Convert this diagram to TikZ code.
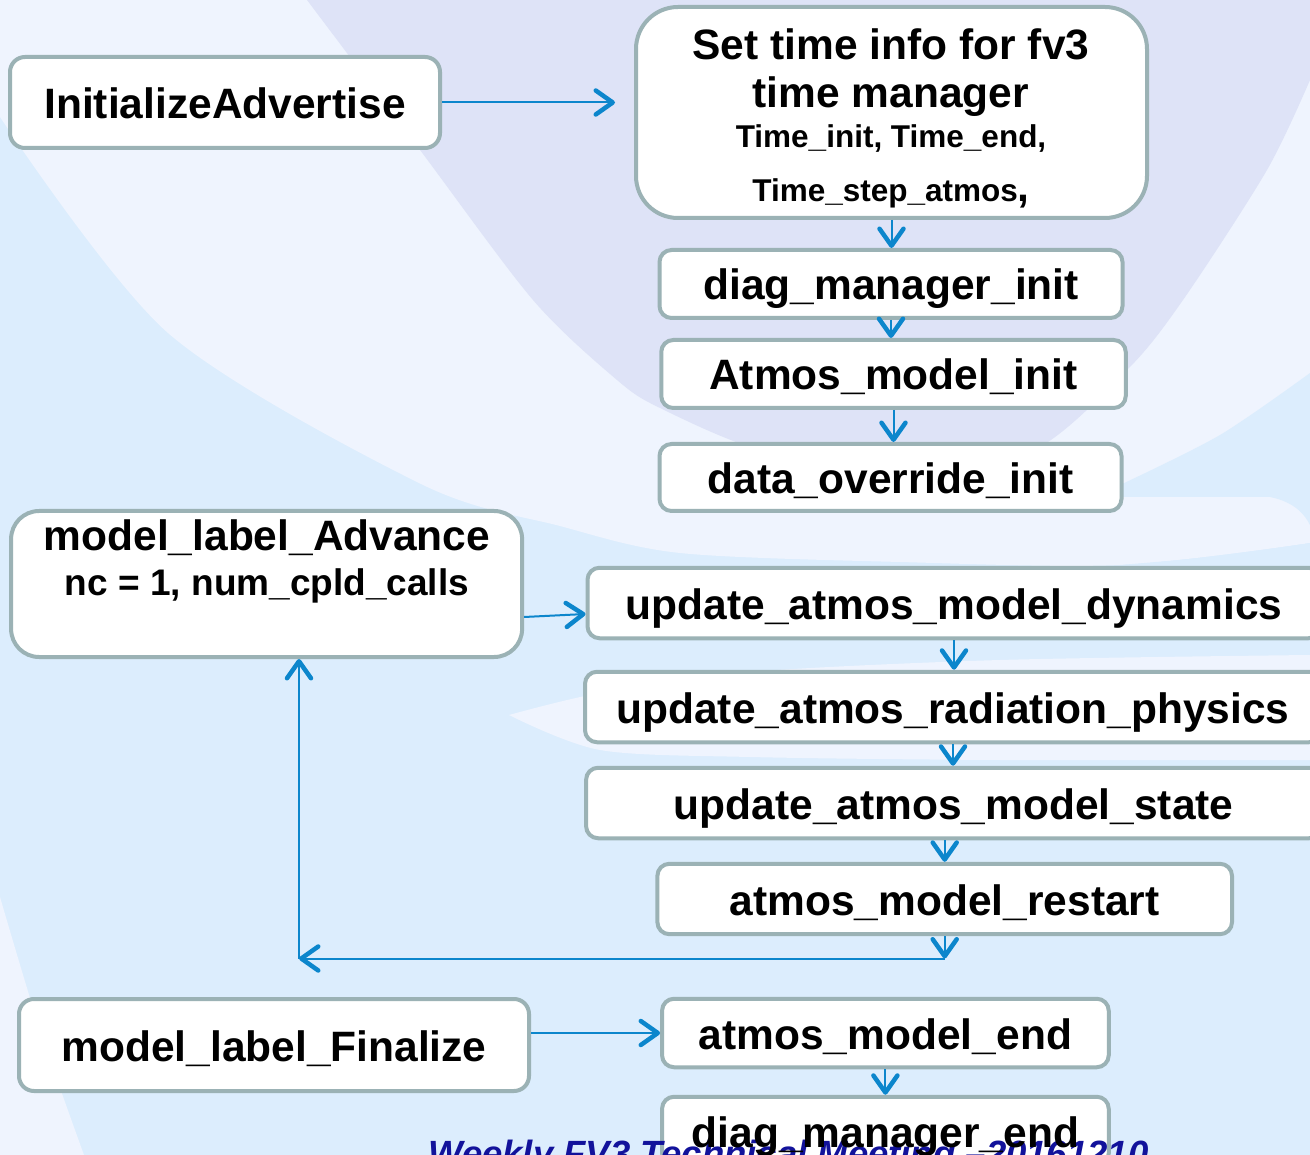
\documentclass[tikz,border=0pt]{standalone}
\usepackage{fontspec}
\setmainfont{Liberation Sans}
\usetikzlibrary{arrows.meta,calc}
\definecolor{bgblue}{RGB}{220,237,253}
\definecolor{bglight}{RGB}{239,244,254}
\definecolor{bglav}{RGB}{222,227,247}
\definecolor{boxline}{RGB}{155,178,181}
\definecolor{arrblue}{RGB}{12,134,204}
\definecolor{footblue}{RGB}{18,18,155}
\begin{document}
\begin{tikzpicture}[x=1pt,y=-1pt,
  box/.style={draw=boxline, line width=4pt, fill=white, rounded corners=#1, inner sep=0pt,
    font=\fontsize{42.5}{48}\selectfont\bfseries, text height=41pt, text depth=9pt},
  box/.default=12pt,
  btext/.style={inner sep=0pt, font=\fontsize{42.5}{48}\selectfont\bfseries, text height=41pt, text depth=9pt},
  arr/.style={draw=arrblue, line width=2pt, -{Straight Barb[length=17pt,width=24pt,line width=4.5pt,round]}},
]
\clip (0,0) rectangle (1310,1155);
% background
\fill[bgblue] (0,0) rectangle (1310,1155);
\fill[bglight] (0,0) -- (1310,0) -- plot[smooth] coordinates {(1310,543) (1120,565) (900,562) (680,553) (560,526) (421,484) (168,333) (0,117)} -- cycle;
\fill[bglav] plot[smooth] coordinates {(307,0) (420,150) (533,300) (617,380) (660,408) (760,450) (890,470) (1030,452) (1127,370) (1183,300) (1267,170) (1310,80)} -- (1310,0) -- cycle;
\fill[bgblue] plot[smooth] coordinates {(1310,373) (1220,435) (1120,485)} -- (1120,497) -- (1270,497) .. controls (1295,502) and (1305,515) .. (1310,525) -- cycle;
\fill[bgblue] plot[smooth] coordinates {(1310,543) (1220,556) (1120,565)} -- (1310,565) -- cycle;
\fill[bglight] plot[smooth] coordinates {(509,715) (600,693) (750,672) (1000,660) (1310,655)} -- plot[smooth] coordinates {(1310,760) (1000,760) (750,757) (600,750) (509,715)} -- cycle;
\fill[bglight] plot[smooth] coordinates {(0,897) (40,1030) (84,1155)} -- (0,1155) -- cycle;

% boxes
\node[box=15pt, minimum width=430pt, minimum height=91pt] (ia) at (225,102.5) {InitializeAdvertise};
\node[box=42pt, minimum width=511pt, minimum height=211pt] (st) at (891.5,112.5) {};
\node[anchor=north, inner sep=0pt, align=center, font=\fontsize{42.5}{48}\selectfont\bfseries] (sttext) at (891,28.5)
  {Set time info for fv3\\time manager\\[-8pt]{\fontsize{31.5}{36}\selectfont Time\_init, Time\_end,}\\[6pt]{\fontsize{31.5}{36}\selectfont Time\_step\_atmos},};
\node[box, minimum width=463pt, minimum height=68pt] (dmi) at (891,284) {diag\_manager\_init};
\node[box, minimum width=464.5pt, minimum height=68pt] (ami) at (893.5,374) {Atmos\_model\_init};
\node[box, minimum width=462pt, minimum height=67pt] (doi) at (890.5,477.5) {data\_override\_init};
\node[box=28pt, minimum width=511pt, minimum height=146pt] (adv) at (266.6,584) {};
\node[anchor=north, inner sep=0pt, align=center, font=\fontsize{42.5}{45}\selectfont\bfseries] (advtext) at (267,519.5)
  {model\_label\_Advance\\{\fontsize{37}{45}\selectfont nc = 1, num\_cpld\_calls}};
\node[box, minimum width=733pt, minimum height=70.5pt] (dyn) at (954,603) {update\_atmos\_model\_dynamics};
\node[box, minimum width=736pt, minimum height=70.5pt] (rad) at (953,707) {update\_atmos\_radiation\_physics};
\node[box, minimum width=735pt, minimum height=70.5pt] (sta) at (953.6,803) {update\_atmos\_model\_state};
\node[box, minimum width=574.6pt, minimum height=70.4pt] (rst) at (944.7,899) {atmos\_model\_restart};
\node[box=15pt, minimum width=510pt, minimum height=92pt] (fin) at (274,1045) {model\_label\_Finalize};
\node[box, minimum width=446.7pt, minimum height=68.5pt] (ame) at (885.4,1033) {atmos\_model\_end};
\node[box, minimum width=446.7pt, minimum height=68.5pt] (dme) at (885.4,1131) {};
\node[anchor=base west, inner sep=0pt, text=footblue, font=\fontsize{36.5}{40}\selectfont\bfseries\itshape] (foot) at (428,1166)
  {Weekly FV3 Technical Meeting –20161210};
\node[btext] (dmetext) at (dme.center) {diag\_manager\_end};

% connectors
\draw[arr, shorten >=19pt] (ia.east) -- (ia.east -| st.west);
\draw[arr] (st.south) -- (st.south |- dmi.north);
\draw[arr] (dmi.south) -- (dmi.south |- ami.north);
\draw[arr] (ami.south) -- (ami.south |- doi.north);
\draw[arr] ([yshift=-33pt]adv.east) -- ([yshift=-11pt]dyn.west);
\draw[arr] (dyn.south) -- (dyn.south |- rad.north);
\draw[arr] (rad.south) -- (rad.south |- sta.north);
\draw[arr] (rst.north |- sta.south) -- (rst.north);
\coordinate (c1) at (944.7,958.5);
\coordinate (c2) at (299,958.5);
\draw[arr] (rst.south) -- (c1);
\draw[arr] (c1) -- (c2);
\draw[arr] (c2) -- (c2 |- adv.south);
\draw[arr] (fin.east |- ame.west) -- (ame.west);
\draw[arr] (ame.south) -- (dme.north);
\end{tikzpicture}
\end{document}
